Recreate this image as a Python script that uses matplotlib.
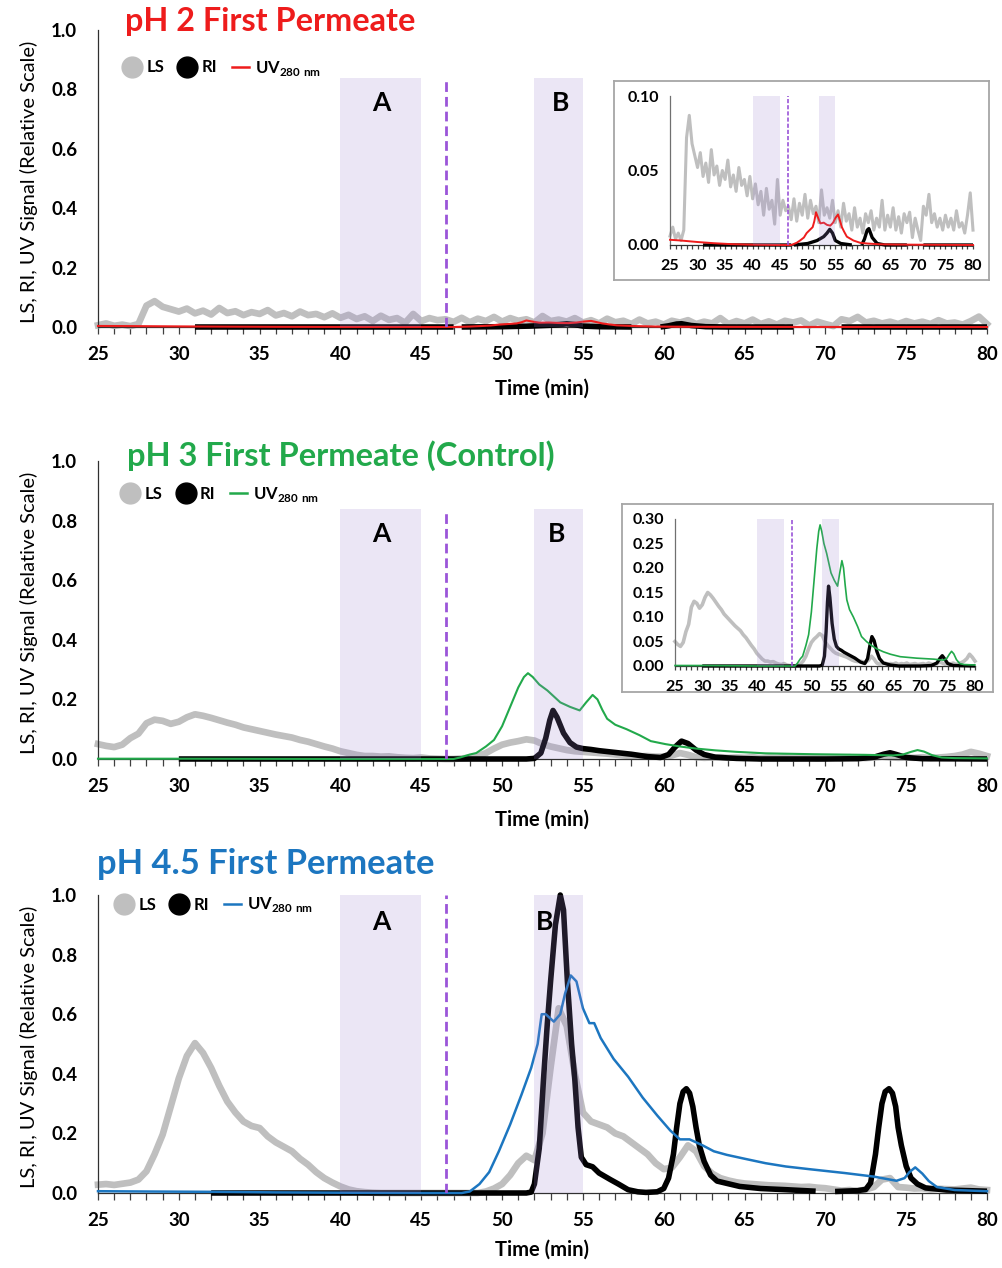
import numpy as np
import matplotlib
matplotlib.use("Agg")
import matplotlib.pyplot as plt
from matplotlib.lines import Line2D
from matplotlib.ticker import MultipleLocator, FormatStrFormatter

plt.rcParams["font.family"] = ["Lato", "DejaVu Sans"]
plt.rcParams["font.weight"] = "bold"
plt.rcParams["mathtext.fontset"] = "custom"
plt.rcParams["mathtext.bf"] = "Lato:bold"
plt.rcParams["mathtext.rm"] = "Lato:bold"

# ---------------------------------------------------------------- data
# Light-scattering traces sampled every 0.5 min from 25 to 80 min
LS_TIME = np.arange(25.0, 80.25, 0.5)

LS_PH2 = [
    0.006, 0.012, 0.004, 0.008, 0.003, 0.010, 0.072, 0.087, 0.068, 0.060,
    0.052, 0.062, 0.046, 0.055, 0.042, 0.064, 0.047, 0.053, 0.040, 0.050,
    0.044, 0.057, 0.039, 0.047, 0.036, 0.052, 0.040, 0.044, 0.033, 0.046,
    0.031, 0.041, 0.027, 0.036, 0.020, 0.038, 0.024, 0.030, 0.014, 0.044,
    0.020, 0.030, 0.023, 0.026, 0.017, 0.031, 0.016, 0.028, 0.020, 0.034,
    0.018, 0.030, 0.021, 0.026, 0.015, 0.037, 0.020, 0.025, 0.018, 0.030,
    0.015, 0.023, 0.012, 0.028, 0.016, 0.021, 0.010, 0.025, 0.012, 0.018,
    0.008, 0.021, 0.015, 0.023, 0.010, 0.018, 0.012, 0.030, 0.010, 0.020,
    0.012, 0.025, 0.010, 0.019, 0.008, 0.021, 0.015, 0.022, 0.005, 0.018,
    0.010, 0.003, 0.026, 0.020, 0.034, 0.015, 0.021, 0.012, 0.018, 0.010,
    0.020, 0.012, 0.018, 0.010, 0.023, 0.012, 0.015, 0.008, 0.020, 0.035,
    0.010,
]

LS_PH3 = [
    0.050, 0.044, 0.040, 0.048, 0.070, 0.085, 0.120, 0.132, 0.128, 0.118,
    0.125, 0.140, 0.150, 0.145, 0.138, 0.130, 0.122, 0.115, 0.106, 0.100,
    0.094, 0.088, 0.082, 0.077, 0.072, 0.064, 0.058, 0.050, 0.042, 0.035,
    0.026, 0.020, 0.014, 0.010, 0.010, 0.008, 0.009, 0.006, 0.004, 0.003,
    0.005, 0.002, 0.001, 0.000, 0.000, 0.002, 0.004, 0.010, 0.020, 0.035,
    0.048, 0.055, 0.060, 0.066, 0.062, 0.050, 0.042, 0.036, 0.030, 0.026,
    0.024, 0.022, 0.020, 0.018, 0.015, 0.012, 0.010, 0.009, 0.010, 0.008,
    0.008, 0.012, 0.020, 0.014, 0.006, 0.004, 0.005, 0.006, 0.004, 0.005,
    0.004, 0.006, 0.003, 0.005, 0.004, 0.006, 0.003, 0.004, 0.005, 0.003,
    0.004, 0.005, 0.003, 0.006, 0.004, 0.003, 0.005, 0.008, 0.006, 0.004,
    0.005, 0.004, 0.006, 0.003, 0.005, 0.007, 0.010, 0.015, 0.024, 0.018,
    0.010,
]

LS_PH45 = [
    0.028, 0.030, 0.027, 0.031, 0.035, 0.045, 0.073, 0.130, 0.196, 0.290,
    0.385, 0.460, 0.503, 0.470, 0.420, 0.360, 0.307, 0.270, 0.240, 0.225,
    0.218, 0.190, 0.170, 0.155, 0.140, 0.115, 0.095, 0.070, 0.050, 0.035,
    0.022, 0.012, 0.006, 0.003, 0.001, 0.000, 0.000, 0.000, 0.000, 0.000,
    0.000, 0.000, 0.000, 0.000, 0.000, 0.000, 0.000, 0.000, 0.005, 0.015,
    0.030, 0.060, 0.100, 0.125, 0.110, 0.200, 0.420, 0.620, 0.560, 0.400,
    0.270, 0.240, 0.230, 0.220, 0.200, 0.190, 0.170, 0.150, 0.130, 0.100,
    0.080, 0.085, 0.120, 0.160, 0.140, 0.090, 0.065, 0.050, 0.042, 0.036,
    0.032, 0.030, 0.028, 0.026, 0.025, 0.024, 0.022, 0.020, 0.021, 0.018,
    0.016, 0.012, 0.008, 0.010, 0.006, 0.012, 0.020, 0.045, 0.050, 0.020,
    0.018, 0.015, 0.016, 0.012, 0.014, 0.013, 0.012, 0.015, 0.018, 0.012,
    0.010,
]

# Refractive-index traces (NaN marks detector gaps)
RI_PH2_T = [31, 35, 40, 45, 47, 47.2, 47.5, 50, 51.7, 52.9, 53.5, 54.0, 54.5,
            55, 56, 58, 59, 59.8, 60.3, 60.8, 61.1, 61.7, 62.6, 64, 68, 69.5,
            71, 80]
RI_PH2_V = [0, 0, 0, 0, 0, np.nan, 0, 0.001, 0.003, 0.0056, 0.008, 0.0105,
            0.008, 0.003, 0.001, 0, np.nan, 0, 0.004, 0.010, 0.011, 0.005,
            0.001, 0, 0, np.nan, 0, 0]

RI_PH3_T = [30, 35, 40, 45, 50, 51.5, 52.0, 52.4, 52.7, 52.95, 53.15, 53.4,
            53.8, 54.2, 54.6, 55.0, 55.5, 56, 57, 58, 59, 59.8, 60.3, 60.7,
            61.1, 61.5, 62, 62.5, 63.2, 64.5, 66, 70, 72, 73, 73.6, 74.0, 74.4,
            75, 76, 80]
RI_PH3_V = [0, 0, 0, 0, 0, 0, 0.002, 0.02, 0.07, 0.13, 0.163, 0.14, 0.087,
            0.055, 0.04, 0.035, 0.032, 0.028, 0.022, 0.016, 0.008, 0.005,
            0.015, 0.04, 0.06, 0.052, 0.03, 0.015, 0.006, 0.002, 0, 0, 0.001,
            0.006, 0.016, 0.021, 0.015, 0.005, 0.001, 0]

RI_PH45_T = [32, 40, 45, 50, 51.5, 51.8, 52.0, 52.3, 52.56, 52.8, 53.0, 53.3,
             53.6, 53.8, 54.04, 54.3, 54.5, 54.7, 54.9, 55.2, 55.6, 56.0, 56.7,
             57.2, 57.8, 58.4, 58.9, 59.6, 60.0, 60.3, 60.6, 60.8, 61.0, 61.2,
             61.4, 61.6, 61.8, 62.0, 62.2, 62.5, 62.9, 63.3, 64.7, 66, 67.6,
             69.4, 70.0, 70.6, 72, 72.5, 72.8, 73.1, 73.3, 73.5, 73.7, 73.94,
             74.15, 74.35, 74.5, 74.7, 75.0, 75.3, 75.7, 76.2, 77.5, 80]
RI_PH45_V = [0, 0, 0, 0, 0, 0.003, 0.03, 0.15, 0.38, 0.57, 0.71, 0.90, 1.0,
             0.95, 0.71, 0.50, 0.38, 0.22, 0.12, 0.095, 0.088, 0.067, 0.045,
             0.03, 0.011, 0.004, 0.002, 0.004, 0.015, 0.05, 0.13, 0.22, 0.30,
             0.34, 0.35, 0.335, 0.29, 0.22, 0.16, 0.106, 0.06, 0.04, 0.022,
             0.015, 0.011, 0.006, np.nan, 0.005, 0.008, 0.012, 0.034, 0.13,
             0.22, 0.30, 0.34, 0.35, 0.335, 0.29, 0.22, 0.16, 0.09, 0.05, 0.03,
             0.017, 0.01, 0.006]

# UV (280 nm) traces
UV_PH2_T = [25, 27, 30, 33, 36, 40, 45, 47, 48, 48.6, 49.3, 49.8, 50.9, 51.2,
            51.5, 51.8, 52.3, 52.9, 53.5, 54.1, 54.6, 55, 55.5, 55.8, 56.2,
            56.6, 57.1, 58.3, 59.5, 60.8, 63, 66, 70, 75, 80]
UV_PH2_V = [0.0035, 0.003, 0.002, 0.0012, 0.0006, 0.0002, 0, 0, 0.0015, 0.003,
            0.005, 0.008, 0.012, 0.016, 0.022, 0.019, 0.0145, 0.015, 0.0135,
            0.013, 0.015, 0.018, 0.0205, 0.017, 0.012, 0.009, 0.0056, 0.003,
            0.0015, 0.001, 0.0005, 0.0003, 0.0002, 0.0001, 0]

UV_PH3_T = [25, 30, 40, 47, 47.4, 48.0, 48.4, 49.0, 49.5, 50.0, 50.5, 51.0,
            51.35, 51.6, 51.9, 52.3, 52.8, 53.2, 53.6, 54.2, 54.8, 55.2, 55.6,
            55.9, 56.2, 56.5, 57.0, 57.7, 58.5, 59.2, 60.1, 61, 62, 63.2, 64.5,
            66.3, 69.3, 72.4, 74.2, 74.8, 75.3, 75.7, 76.1, 76.6, 77.2, 78, 80]
UV_PH3_V = [0.001, 0.001, 0.0, 0.0, 0.005, 0.015, 0.02, 0.042, 0.064, 0.11,
            0.175, 0.24, 0.275, 0.288, 0.275, 0.25, 0.23, 0.21, 0.19, 0.175,
            0.163, 0.19, 0.215, 0.2, 0.165, 0.135, 0.115, 0.1, 0.08, 0.06,
            0.05, 0.042, 0.035, 0.029, 0.024, 0.019, 0.016, 0.014, 0.012,
            0.015, 0.024, 0.03, 0.025, 0.013, 0.005, 0.003, 0.002]

UV_PH45_T = [25, 28, 32, 36, 40, 45, 47.5, 48.0, 48.6, 49.2, 49.8, 50.5, 51.2,
             51.8, 52.2, 52.45, 52.7, 53.2, 53.6, 53.9, 54.25, 54.6, 55.0,
             55.4, 55.7, 56.1, 56.9, 57.8, 58.7, 59.6, 60.4, 61.0, 61.6, 62.4,
             63.1, 63.9, 65.0, 66.3, 67.55, 69.0, 71.2, 73.0, 74.4, 74.9, 75.2,
             75.56, 76.0, 76.4, 76.9, 78, 80]
UV_PH45_V = [0.006, 0.005, 0.004, 0.002, 0.001, 0, 0, 0.005, 0.03, 0.07, 0.14,
             0.23, 0.33, 0.42, 0.50, 0.60, 0.60, 0.575, 0.60, 0.67, 0.73, 0.71,
             0.62, 0.57, 0.57, 0.52, 0.45, 0.39, 0.32, 0.26, 0.21, 0.18, 0.18,
             0.16, 0.14, 0.128, 0.115, 0.10, 0.089, 0.08, 0.067, 0.055, 0.041,
             0.05, 0.07, 0.086, 0.065, 0.04, 0.02, 0.01, 0.006]

TITLES = ["pH 2 First Permeate", "pH 3 First Permeate (Control)",
          "pH 4.5 First Permeate"]
UV_COLORS = ["#ee1c1c", "#22a94b", "#1c76c0"]
FRACTION_A = (40, 45)
FRACTION_B = (52, 55)
CUT_TIME = 46.5

LS_COLOR = "#bfbfbf"
SHADE = (0.62, 0.52, 0.82)
DASH = "#9b55d8"

# ---------------------------------------------------------------- figure
fig = plt.figure(figsize=(10.03, 12.68), dpi=100)
W, H = 1003, 1268


def px_axes(x0, x1, y_top, y_bot, **kw):
    return fig.add_axes([x0 / W, 1 - y_bot / H, (x1 - x0) / W, (y_bot - y_top) / H], **kw)


def traces(ax, ls, ri_t, ri_v, uv_t, uv_v, uv_c, ls_lw, ri_lw, uv_lw):
    ax.plot(LS_TIME, ls, color=LS_COLOR, lw=ls_lw, solid_joinstyle="round",
            zorder=2, clip_on=False)
    ax.plot(ri_t, ri_v, color="black", lw=ri_lw, solid_capstyle="butt",
            solid_joinstyle="round", zorder=3, clip_on=False)
    ax.plot(uv_t, uv_v, color=uv_c, lw=uv_lw, zorder=4, clip_on=False)


def fractions(ax, top):
    for lo, hi in (FRACTION_A, FRACTION_B):
        ax.axvspan(lo, hi, ymin=0, ymax=top, color=SHADE, alpha=0.2, lw=0,
                   zorder=6)


def x_axis(ax, size, length, pad):
    ax.set_xlim(25, 80)
    ax.xaxis.set_major_locator(MultipleLocator(5))
    ax.xaxis.set_minor_locator(MultipleLocator(1))
    ax.tick_params(axis="x", which="both", direction="out", length=length,
                   width=0.9, color="#404040", labelsize=size, pad=pad)
    ax.tick_params(axis="y", length=0, labelsize=size)
    for s in ("top", "right"):
        ax.spines[s].set_visible(False)
    for s in ("left", "bottom"):
        ax.spines[s].set_linewidth(0.9)
        ax.spines[s].set_color("#303030")


panels = [
    dict(ls=LS_PH2, ri=(RI_PH2_T, RI_PH2_V), uv=(UV_PH2_T, UV_PH2_V),
         top=30, bot=327, shade=0.84, lab_y=0.755, b_x=53.6, title_x=125,
         title_y=22, title_fs=23.3, leg_y=68, leg_x=0.012, xl_y=389,
         inset=dict(box=(614, 989, 81, 280), ax=(670, 973, 96, 245),
                    ymax=0.10, step=0.05, ls_lw=2.2, ri_lw=2.4, uv_lw=1.4)),
    dict(ls=LS_PH3, ri=(RI_PH3_T, RI_PH3_V), uv=(UV_PH3_T, UV_PH3_V),
         top=461, bot=759, shade=0.84, lab_y=0.755, b_x=53.4, title_x=127,
         title_y=456, title_fs=23.5, leg_y=494, leg_x=0.010, xl_y=820,
         inset=dict(box=(622, 993, 504, 692), ax=(675, 975, 519, 666),
                    ymax=0.30, step=0.05, ls_lw=2.6, ri_lw=2.4, uv_lw=1.2)),
    dict(ls=LS_PH45, ri=(RI_PH45_T, RI_PH45_V), uv=(UV_PH45_T, UV_PH45_V),
         top=895, bot=1193, shade=1.0, lab_y=0.91, b_x=52.6, title_x=97,
         title_y=864, title_fs=24.8, leg_y=905, leg_x=0.003, xl_y=1250,
         inset=None),
]

for i, p in enumerate(panels):
    uv_c = UV_COLORS[i]
    ax = px_axes(98, 987, p["top"], p["bot"])
    traces(ax, p["ls"], *p["ri"], *p["uv"], uv_c, ls_lw=4.8, ri_lw=4.0,
           uv_lw=1.5 if i < 2 else 1.8)
    fractions(ax, p["shade"])
    ax.vlines(CUT_TIME, 0, p["shade"], colors=DASH, linestyles=(0, (3.5, 1.8)),
              lw=2.0, zorder=7)
    ax.text(42.5, p["lab_y"], "A", ha="center", va="center", fontsize=19,
            zorder=8)
    ax.text(p["b_x"], p["lab_y"], "B", ha="center", va="center", fontsize=19,
            zorder=8)
    ax.set_ylim(0, 1.0)
    ax.set_yticks(np.arange(0, 1.01, 0.2))
    ax.yaxis.set_major_formatter(FormatStrFormatter("%.1f"))
    x_axis(ax, 13.5, 5, 9)
    ax.tick_params(axis="y", pad=15)
    ax.set_ylabel("LS, RI, UV Signal (Relative Scale)", fontsize=14.5)
    ax.yaxis.set_label_coords(-0.067, 0.49)
    fig.text(542 / W, 1 - p["xl_y"] / H, "Time (min)", ha="center",
             va="center", fontsize=14.5)
    fig.text(p["title_x"] / W, 1 - p["title_y"] / H, TITLES[i], ha="left",
             va="center", fontsize=p["title_fs"], color=uv_c)

    handles = [
        Line2D([], [], ls="none", marker="o", ms=15, color=LS_COLOR),
        Line2D([], [], ls="none", marker="o", ms=15, color="black"),
        Line2D([], [], color=uv_c, lw=1.8),
    ]
    ax.legend(handles, ["LS", "RI", r"UV$_{\mathbf{280\ nm}}$"],
              loc="center left", ncol=3, frameon=False, fontsize=12,
              handlelength=1.0, handletextpad=0.35, columnspacing=0.9,
              bbox_to_anchor=(p["leg_x"], (p["bot"] - p["leg_y"]) / (p["bot"] - p["top"])))

    ins = p["inset"]
    if ins is not None:
        bx0, bx1, by0, by1 = ins["box"]
        frame = px_axes(bx0, bx1, by0, by1)
        frame.set_xticks([])
        frame.set_yticks([])
        for s in frame.spines.values():
            s.set_color("#a6a6a6")
            s.set_linewidth(1.3)
        frame.set_zorder(10)
        ax0, ax1, ay0, ay1 = ins["ax"]
        ia = px_axes(ax0, ax1, ay0, ay1)
        ia.set_zorder(11)
        ia.patch.set_alpha(0)
        traces(ia, p["ls"], *p["ri"], *p["uv"], uv_c, ls_lw=ins["ls_lw"],
               ri_lw=ins["ri_lw"], uv_lw=ins["uv_lw"])
        fractions(ia, 1.0)
        ia.vlines(CUT_TIME, 0, ins["ymax"], colors=DASH,
                  linestyles=(0, (2.5, 1.2)), lw=1.2, zorder=7)
        ia.set_ylim(0, ins["ymax"])
        ia.set_yticks(np.arange(0, ins["ymax"] + 1e-9, ins["step"]))
        ia.yaxis.set_major_formatter(FormatStrFormatter("%.2f"))
        x_axis(ia, 11.5, 3, 7)
        ia.tick_params(axis="y", pad=8)
        ia.spines["left"].set_color("#707070")

fig.savefig("out.png", dpi=100)
